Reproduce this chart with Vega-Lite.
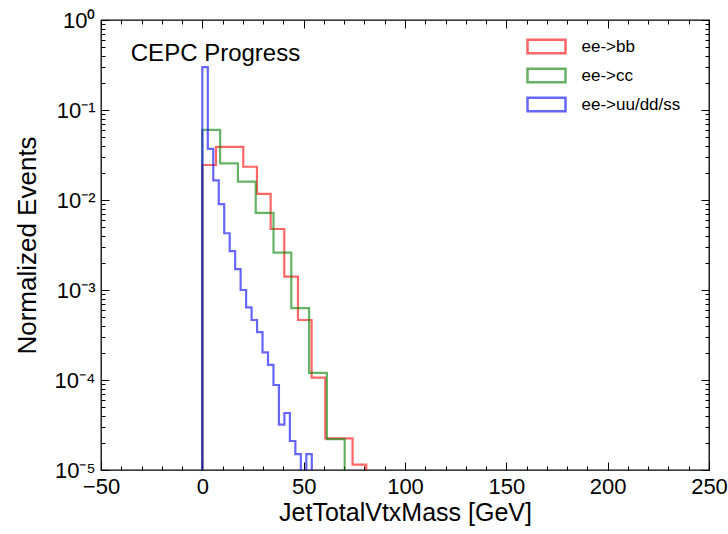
{
  "$schema": "https://vega.github.io/schema/vega-lite/v6.json",
  "width": 608,
  "height": 450,
  "autosize": "none",
  "padding": {"left": 101, "top": 20, "right": 19, "bottom": 64},
  "background": "white",
  "config": {
    "font": "Liberation Sans",
    "view": {"stroke": "black", "strokeWidth": 1.3},
    "axis": {"grid": false, "domain": false, "tickColor": "black", "tickWidth": 1, "labelColor": "black", "titleColor": "black", "titleFontWeight": "normal"}
  },
  "data": {
    "values": [
      {"s": "ee->bb", "i": 0, "x": 0, "v": 1e-7},
      {"s": "ee->bb", "i": 1, "x": 0, "v": 0.0245},
      {"s": "ee->bb", "i": 2, "x": 6.74, "v": 0.039},
      {"s": "ee->bb", "i": 3, "x": 13.48, "v": 0.039},
      {"s": "ee->bb", "i": 4, "x": 20.22, "v": 0.0234},
      {"s": "ee->bb", "i": 5, "x": 26.96, "v": 0.0117},
      {"s": "ee->bb", "i": 6, "x": 33.7, "v": 0.00476},
      {"s": "ee->bb", "i": 7, "x": 40.44, "v": 0.00141},
      {"s": "ee->bb", "i": 8, "x": 47.18, "v": 0.000464},
      {"s": "ee->bb", "i": 9, "x": 53.92, "v": 0.000106},
      {"s": "ee->bb", "i": 10, "x": 60.66, "v": 0.0000225},
      {"s": "ee->bb", "i": 11, "x": 67.4, "v": 0.0000225},
      {"s": "ee->bb", "i": 12, "x": 74.14, "v": 0.0000115},
      {"s": "ee->bb", "i": 13, "x": 80.88, "v": 1e-7},
      {"s": "ee->cc", "i": 0, "x": 0, "v": 1e-7},
      {"s": "ee->cc", "i": 1, "x": 0, "v": 0.06},
      {"s": "ee->cc", "i": 2, "x": 8.78, "v": 0.0255},
      {"s": "ee->cc", "i": 3, "x": 17.56, "v": 0.016},
      {"s": "ee->cc", "i": 4, "x": 26.34, "v": 0.0072},
      {"s": "ee->cc", "i": 5, "x": 35.12, "v": 0.0026},
      {"s": "ee->cc", "i": 6, "x": 43.9, "v": 0.00063},
      {"s": "ee->cc", "i": 7, "x": 52.68, "v": 0.00012},
      {"s": "ee->cc", "i": 8, "x": 61.46, "v": 0.000022},
      {"s": "ee->cc", "i": 9, "x": 70.24, "v": 1e-7},
      {"s": "ee->uu/dd/ss", "i": 0, "x": 0, "v": 1e-7},
      {"s": "ee->uu/dd/ss", "i": 1, "x": 0, "v": 0.3},
      {"s": "ee->uu/dd/ss", "i": 2, "x": 2.7, "v": 0.037},
      {"s": "ee->uu/dd/ss", "i": 3, "x": 5.4, "v": 0.0165},
      {"s": "ee->uu/dd/ss", "i": 4, "x": 8.1, "v": 0.009},
      {"s": "ee->uu/dd/ss", "i": 5, "x": 10.8, "v": 0.00427},
      {"s": "ee->uu/dd/ss", "i": 6, "x": 13.5, "v": 0.00271},
      {"s": "ee->uu/dd/ss", "i": 7, "x": 16.2, "v": 0.00171},
      {"s": "ee->uu/dd/ss", "i": 8, "x": 18.9, "v": 0.001},
      {"s": "ee->uu/dd/ss", "i": 9, "x": 21.6, "v": 0.00064},
      {"s": "ee->uu/dd/ss", "i": 10, "x": 24.3, "v": 0.000464},
      {"s": "ee->uu/dd/ss", "i": 11, "x": 27.0, "v": 0.00034},
      {"s": "ee->uu/dd/ss", "i": 12, "x": 29.7, "v": 0.000203},
      {"s": "ee->uu/dd/ss", "i": 13, "x": 32.4, "v": 0.000147},
      {"s": "ee->uu/dd/ss", "i": 14, "x": 35.1, "v": 0.000088},
      {"s": "ee->uu/dd/ss", "i": 15, "x": 37.8, "v": 0.000032},
      {"s": "ee->uu/dd/ss", "i": 16, "x": 40.5, "v": 0.000043},
      {"s": "ee->uu/dd/ss", "i": 17, "x": 43.2, "v": 0.000021},
      {"s": "ee->uu/dd/ss", "i": 18, "x": 45.9, "v": 0.000015},
      {"s": "ee->uu/dd/ss", "i": 19, "x": 48.6, "v": 1e-7},
      {"s": "ee->uu/dd/ss", "i": 20, "x": 51.3, "v": 0.000015},
      {"s": "ee->uu/dd/ss", "i": 21, "x": 54.0, "v": 1e-7}
    ]
  },
  "layer": [
    {
      "mark": {"type": "line", "interpolate": "step-after", "strokeWidth": 2.2, "strokeOpacity": 0.6, "clip": true},
      "encoding": {
        "x": {
          "field": "x", "type": "quantitative",
          "scale": {"domain": [-50, 250], "nice": false, "zero": false},
          "axis": {"orient": "bottom", "values": [-50, 0, 50, 100, 150, 200, 250], "tickSize": -8, "labelPadding": 14, "labelFontSize": 22, "labelFlush": false, "labelOverlap": false,
                   "title": "JetTotalVtxMass [GeV]", "titleFontSize": 25, "titleX": 304, "titleY": 50, "titleBaseline": "alphabetic", "titleAlign": "center"}
        },
        "y": {
          "field": "v", "type": "quantitative",
          "scale": {"type": "log", "domain": [0.00001, 1], "nice": false},
          "axis": {"orient": "left", "values": [0.00001, 0.0001, 0.001, 0.01, 0.1, 1], "tickSize": -8, "labelPadding": 14, "labelFontSize": 22, "labelOverlap": false, "labelFlush": false,
                   "labelExpr": "datum.value >= 0.5 ? '10⁰' : datum.value >= 0.05 ? '10⁻¹' : datum.value >= 0.005 ? '10⁻²' : datum.value >= 0.0005 ? '10⁻³' : datum.value >= 0.00005 ? '10⁻⁴' : '10⁻⁵'",
                   "title": "Normalized Events", "titleFontSize": 26, "titleAngle": -90, "titleX": -66, "titleY": 225, "titleBaseline": "alphabetic", "titleAlign": "center"}
        },
        "color": {
          "field": "s", "type": "nominal",
          "scale": {"domain": ["ee->bb", "ee->cc", "ee->uu/dd/ss"], "range": ["#ff0000", "#008000", "#0000ff"]},
          "legend": {"orient": "none", "legendX": 434.5, "legendY": 15.5, "title": null, "padding": 0,
                     "symbolType": "M-2,-0.7L2,-0.7L2,0.7L-2,0.7Z", "symbolSize": 361, "symbolStrokeWidth": 2.5, "symbolOpacity": 0.6, "symbolFillColor": "transparent",
                     "labelFontSize": 17, "labelOffset": 24, "rowPadding": 5, "labelColor": "black"}
        },
        "order": {"field": "i", "type": "quantitative"}
      }
    },
    {
      "data": {"values": [{"label": "CEPC Progress"}]},
      "mark": {"type": "text", "align": "left", "baseline": "alphabetic", "fontSize": 24, "color": "black"},
      "encoding": {
        "x": {"datum": -35.3, "type": "quantitative", "scale": {"domain": [-50, 250], "nice": false, "zero": false},
              "axis": {"orient": "top", "values": [-50, 0, 50, 100, 150, 200, 250], "tickSize": -8, "labels": false, "title": null}},
        "y": {"datum": 0.353, "type": "quantitative", "scale": {"type": "log", "domain": [0.00001, 1], "nice": false},
              "axis": {"orient": "right", "values": [0.00001, 0.0001, 0.001, 0.01, 0.1, 1], "tickSize": -8, "labels": false, "title": null}},
        "text": {"field": "label"}
      }
    },
    {
      "mark": {"type": "point", "opacity": 0},
      "encoding": {
        "x": {"field": "x", "type": "quantitative", "scale": {"domain": [-50, 250], "nice": false, "zero": false},
              "axis": {"orient": "bottom", "values": [-40, -30, -20, -10, 10, 20, 30, 40, 60, 70, 80, 90, 110, 120, 130, 140, 160, 170, 180, 190, 210, 220, 230, 240], "tickSize": -4, "labels": false, "title": null}},
        "y": {"field": "v", "type": "quantitative", "scale": {"type": "log", "domain": [0.00001, 1], "nice": false},
              "axis": {"orient": "left", "values": [0.00002, 0.00003, 0.00004, 0.00005, 0.00006, 0.00007, 0.00008, 0.00009, 0.0002, 0.0003, 0.0004, 0.0005, 0.0006, 0.0007, 0.0008, 0.0009, 0.002, 0.003, 0.004, 0.005, 0.006, 0.007, 0.008, 0.009, 0.02, 0.03, 0.04, 0.05, 0.06, 0.07, 0.08, 0.09, 0.2, 0.3, 0.4, 0.5, 0.6, 0.7, 0.8, 0.9], "tickSize": -4, "labels": false, "title": null}}
      }
    },
    {
      "mark": {"type": "point", "opacity": 0},
      "encoding": {
        "x": {"field": "x", "type": "quantitative", "scale": {"domain": [-50, 250], "nice": false, "zero": false},
              "axis": {"orient": "top", "values": [-40, -30, -20, -10, 10, 20, 30, 40, 60, 70, 80, 90, 110, 120, 130, 140, 160, 170, 180, 190, 210, 220, 230, 240], "tickSize": -4, "labels": false, "title": null}},
        "y": {"field": "v", "type": "quantitative", "scale": {"type": "log", "domain": [0.00001, 1], "nice": false},
              "axis": {"orient": "right", "values": [0.00002, 0.00003, 0.00004, 0.00005, 0.00006, 0.00007, 0.00008, 0.00009, 0.0002, 0.0003, 0.0004, 0.0005, 0.0006, 0.0007, 0.0008, 0.0009, 0.002, 0.003, 0.004, 0.005, 0.006, 0.007, 0.008, 0.009, 0.02, 0.03, 0.04, 0.05, 0.06, 0.07, 0.08, 0.09, 0.2, 0.3, 0.4, 0.5, 0.6, 0.7, 0.8, 0.9], "tickSize": -4, "labels": false, "title": null}}
      }
    }
  ],
  "resolve": {"axis": {"x": "independent", "y": "independent"}}
}
